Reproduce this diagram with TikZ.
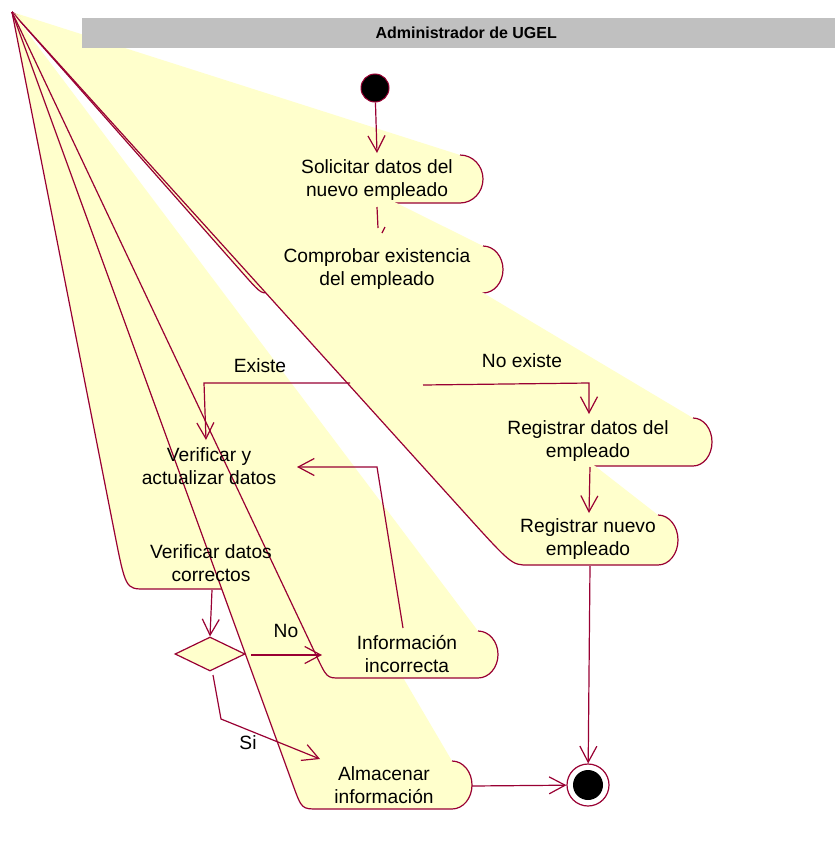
\documentclass[tikz,border=0pt]{standalone}
\usepackage{fontspec}
\setmainfont{Liberation Sans}
\usetikzlibrary{arrows.meta}
\usetikzlibrary{shapes.geometric}
\usetikzlibrary{math}
\definecolor{rosered}{RGB}{153,0,51}
\definecolor{actyellow}{RGB}{255,255,204}
\definecolor{lanegray}{RGB}{192,192,192}

\begin{document}
\begin{tikzpicture}[x=1pt,y=-1pt,
    actfill/.style={fill=actyellow},
    actline/.style={draw=rosered,line width=1.2pt,line join=round},
    trans/.style={draw=rosered,line width=1.2pt},
    flow/.style={trans,-{Straight Barb[length=16pt,width=17pt,line width=1.2pt]}},
    acttext/.style={align=center,inner sep=0pt,font=\fontsize{19.2}{23.5}\selectfont},
    guard/.style={inner sep=0pt,font=\fontsize{19.2}{23.5}\selectfont},
    decision/.style={diamond,draw=rosered,fill=actyellow,line width=1.2pt,inner sep=0pt,minimum width=70pt,minimum height=34pt}]
            \useasboundingbox (0,0) rectangle (835,846);
            \clip (0,0) rectangle (835,846);
            \fill[white] (0,0) rectangle (835,846);
            \coordinate (apex) at (12,12);

            \foreach \txr/\xr/\yt/\yb/\blx/\lx/\ly in {460/483/155/203/295/271/179,483/503/246/293/268/240/270,693/712/418/466/490/466/442,658/678/515/565/528/462/510,268/290/442/490/152/130/466,283/305/541/589/145/114/530,452/472/761/809/318/293/785,478/498/631/678/340/316/655} {
                \tikzmath{\cx = \lx+(\lx-12)/(\ly-12)*(\yb-\ly); \rx = \xr-\txr; \ry = (\yb-\yt)/2;}
                \fill[actfill] (apex) -- (\txr,\yt) arc[start angle=-90,end angle=90,x radius=\rx,y radius=\ry] -- (\blx,\yb) .. controls (\cx,\yb) .. (\lx,\ly) -- cycle;
                \draw[actline] (apex) -- (\lx,\ly) .. controls (\cx,\yb) .. (\blx,\yb) -- (\txr,\yb) arc[start angle=90,end angle=-90,x radius=\rx,y radius=\ry];
            }

            \node[fill=lanegray,anchor=north west,minimum width=768pt,minimum height=30pt,inner sep=0pt,font=\fontsize{16}{19}\selectfont\bfseries] (lane) at (82,18) {Administrador de UGEL};

            \node[circle,draw=rosered,fill=black,line width=1pt,minimum size=28pt,inner sep=0pt] (inicio) at (375,88) {};
            \node[circle,draw=rosered,fill=white,line width=1.2pt,minimum size=42pt,inner sep=0pt] (fin) at (588,785) {};
            \node[circle,fill=black,minimum size=30pt,inner sep=0pt] (finin) at (fin) {};
            \node[decision] (dec) at (210,654) {};

            \coordinate (solin) at (377,153);
            \coordinate (s1) at (377,207);
            \coordinate (s2) at (378,228);
            \coordinate (s3) at (385,227);
            \coordinate (s4) at (382,233);
            \coordinate (e1) at (350,383);
            \coordinate (e2) at (204,383);
            \coordinate (e3) at (206,440);
            \coordinate (n1) at (423,385);
            \coordinate (n2) at (589,383);
            \coordinate (n3) at (589,414);
            \coordinate (r1) at (590,467);
            \coordinate (r2) at (589,513);
            \coordinate (r3) at (590,566);
            \coordinate (vc) at (212,590);
            \coordinate (i1) at (403,628);
            \coordinate (i2) at (377,467);
            \coordinate (i3) at (297,467);
            \coordinate (no1) at (251,655);
            \coordinate (no2) at (322,655);
            \coordinate (si1) at (213,675);
            \coordinate (si2) at (221,719);
            \coordinate (si3) at (320,759);
            \coordinate (al) at (472,786);

            \draw[flow] (inicio) -- (solin);
            \draw[trans] (s1) -- (s2);
            \draw[trans] (s3) -- (s4);
            \draw[flow] (e1) -- (e2) -- (e3);
            \draw[flow] (n1) -- (n2) -- (n3);
            \draw[flow] (r1) -- (r2);
            \draw[flow] (r3) -- (fin);
            \draw[flow] (vc) -- (dec.north);
            \draw[flow] (i1) -- (i2) -- (i3);
            \draw[flow] (no1) -- (no2);
            \draw[flow] (si1) -- (si2) -- (si3);
            \draw[flow] (al) -- (fin);

            \node[acttext] (solicitar) at (377,180) {Solicitar datos del\\nuevo empleado};
            \node[acttext] (comprobar) at (377,269) {Comprobar existencia\\del empleado};
            \node[acttext] (regdatos) at (588,441) {Registrar datos del\\empleado};
            \node[acttext] (regnuevo) at (588,539) {Registrar nuevo\\empleado};
            \node[acttext] (verifact) at (209,466) {Verificar y\\actualizar datos};
            \node[acttext] (verifcorr) at (211,563) {Verificar datos\\correctos};
            \node[acttext] (infoinc) at (407,654) {Información\\incorrecta};
            \node[acttext] (almacenar) at (384,785) {Almacenar\\información};
            \node[guard] (lexiste) at (260,366) {Existe};
            \node[guard] (lnoexiste) at (522,361) {No existe};
            \node[guard] (lno) at (286,631) {No};
            \node[guard] (lsi) at (248,743) {Si};
        \end{tikzpicture}
\end{document}
